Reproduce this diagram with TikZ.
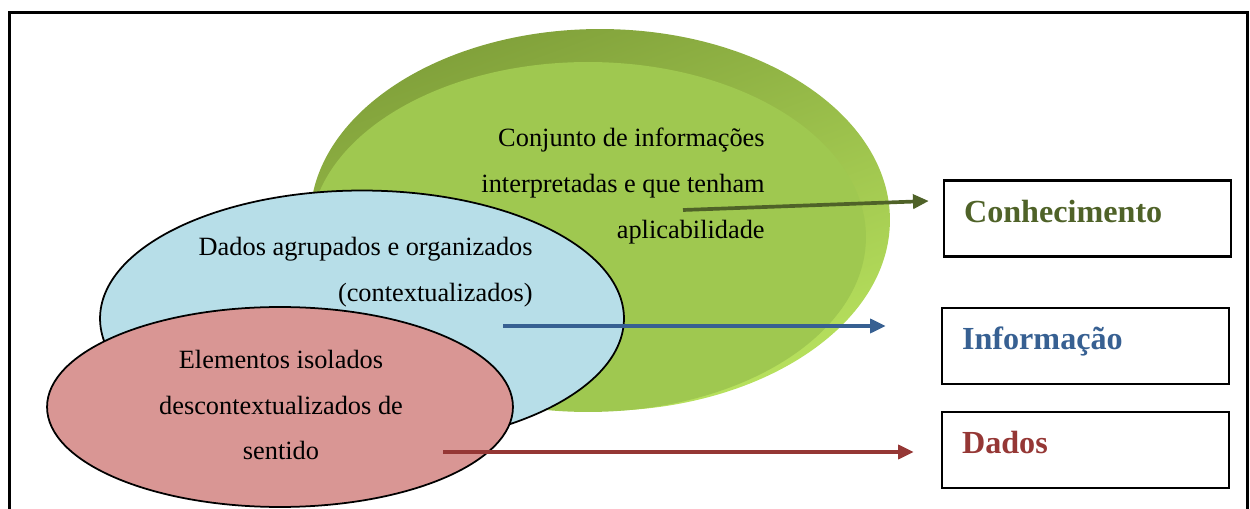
\documentclass[tikz,border=0pt]{standalone}
\usepackage{fontspec}
\setmainfont{Liberation Serif}
\usetikzlibrary{shapes.geometric,arrows.meta}
\definecolor{verdeface}{HTML}{9FC850}
\definecolor{verdeborda}{HTML}{80A03A}
\definecolor{verdeclaro}{HTML}{B8E25E}
\definecolor{azulfundo}{HTML}{B7DEE8}
\definecolor{vermfundo}{HTML}{D99694}
\definecolor{verdetexto}{HTML}{4F6228}
\definecolor{azultexto}{HTML}{376092}
\definecolor{vermtexto}{HTML}{953735}

\begin{document}
\begin{tikzpicture}[x=0.02cm,y=-0.02cm,
  oval/.style={ellipse, inner sep=0pt},
  rotulo/.style={inner sep=0pt, font=\fontsize{15}{26.1}\selectfont},
  caixa/.style={draw, rectangle, line width=1.4pt, minimum height=1.52cm,
    text width=4.94cm, inner xsep=0.4cm, align=left, text height=12.5pt,
    text depth=8.5pt, font=\fontsize{18.3}{22}\selectfont\bfseries},
  seta/.style={line width=2.1pt, -{Triangle[length=9pt,width=8pt]}}]
\useasboundingbox (0,0) rectangle (1250,509);
% moldura aberta em baixo
\draw[line width=1.5pt] (9.5,520) -- (9.5,12.5) -- (1247.5,12.5) -- (1247.5,520);
% elipses
\node[oval, top color=verdeborda, bottom color=verdeclaro, shading angle=20, minimum width=11.6cm, minimum height=7.64cm] (conjfundo) at (600,220) {};
\node[oval, fill=verdeface, minimum width=11.12cm, minimum height=7cm] (conj) at (588,237) {};
\node[oval, draw, line width=1pt, fill=azulfundo, minimum width=10.48cm, minimum height=5.12cm] (agrup) at (362,318.5) {};
\node[oval, draw, line width=1pt, fill=vermfundo, minimum width=9.32cm, minimum height=4cm] (elem) at (280,407) {};
% textos
\node[rotulo, align=right, anchor=east] (tconj) at (765,186) {Conjunto de informações\\interpretadas e que tenham\\aplicabilidade};
\node[rotulo, align=right, anchor=east] (tagrup) at (533,272) {Dados agrupados e organizados\\(contextualizados)};
\node[rotulo, align=center] (telem) at (281,405) {Elementos isolados\\descontextualizados de\\sentido};
% caixas
\node[caixa, text=verdetexto] (conh) at (1087.5,218.5) {Conhecimento};
\node[caixa, text=azultexto] (info) at (1085.5,346) {Informação};
\node[caixa, text=vermtexto] (dados) at (1085.5,450) {Dados};
% setas
\coordinate (sconj) at ([shift={(95,-27)}]conj.center);
\coordinate (fconj) at ([shift={(-14,-17.5)}]conh.west);
\coordinate (sagrup) at ([shift={(141,7.5)}]agrup.center);
\coordinate (finfo) at ([shift={(-55,-20)}]info.west);
\coordinate (selem) at ([shift={(163,45)}]elem.center);
\coordinate (fdados) at ([shift={(-27,2)}]dados.west);
\path[draw,seta,verdetexto] (sconj) -- (fconj);
\path[draw,seta,azultexto] (sagrup) -- (finfo);
\path[draw,seta,vermtexto] (selem) -- (fdados);
\end{tikzpicture}
\end{document}
